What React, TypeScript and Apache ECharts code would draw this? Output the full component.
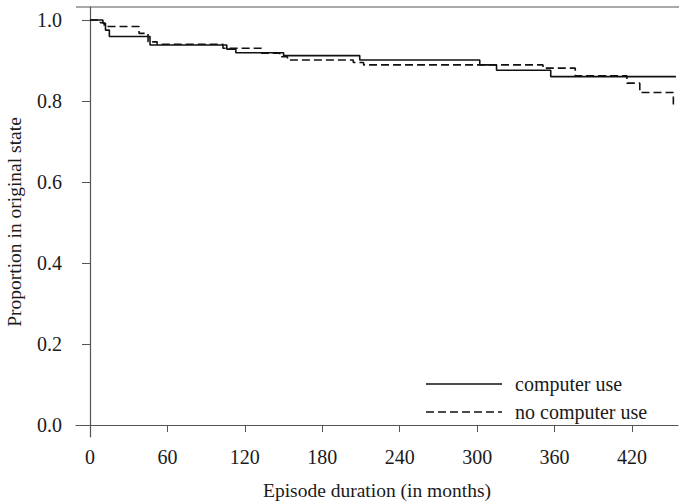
import React, { useEffect, useRef } from "react";
import * as echarts from "echarts";

const xTicks = [0, 60, 120, 180, 240, 300, 360, 420];
const yTicks = [0, 0.2, 0.4, 0.6, 0.8, 1.0];

const computerUse: [number, number][] = [
  [0, 1.0], [10, 0.992], [12, 0.975], [15, 0.959], [46.5, 0.938], [106, 0.928],
  [113, 0.919], [150, 0.912], [209, 0.901], [302, 0.889], [315, 0.876],
  [357, 0.86], [454, 0.86],
];

const noComputerUse: [number, number][] = [
  [0, 1.0], [8, 0.993], [11, 0.984], [38, 0.967], [45, 0.946], [52, 0.94],
  [103, 0.93], [133, 0.918], [147, 0.909], [153, 0.901], [204, 0.895],
  [212, 0.889], [351, 0.881], [376, 0.862], [416, 0.844], [426, 0.821],
  [452, 0.79], [452.6, 0.79],
];

const seriesNames = ["computer use", "no computer use"];
const FONT = "'Liberation Serif', 'Times New Roman', 'DejaVu Serif', serif";

export default function App() {
  const ref = useRef<HTMLDivElement>(null);
  useEffect(() => {
    const chart = echarts.init(ref.current!, null, { renderer: "svg" });
    const tickStyle = { fontFamily: FONT, fontSize: 20, color: "#1a1a1a" };
    const titleStyle = { fontFamily: FONT, fontSize: 19.5, color: "#1a1a1a" };
    chart.setOption({
      animation: false,
      backgroundColor: "#fff",
      grid: { left: 76, right: 1, top: 7, bottom: 66, containLabel: false, outerBoundsMode: "none" },
      xAxis: {
        type: "value",
        min: -10.85,
        max: 455.6,
        name: "Episode duration (in months)",
        nameLocation: "middle",
        nameGap: 43,
        nameTextStyle: titleStyle,
        axisLine: { lineStyle: { color: "#555", width: 1.2 } },
        axisTick: { customValues: xTicks, length: 7, lineStyle: { color: "#555" } },
        axisLabel: { customValues: xTicks, margin: 10, ...tickStyle },
        splitLine: { show: false },
      },
      yAxis: {
        type: "value",
        min: -0.0296,
        max: 1.032,
        name: "Proportion in original state",
        nameLocation: "middle",
        nameGap: 52,
        nameTextStyle: titleStyle,
        axisLine: { show: true, lineStyle: { color: "#555", width: 1.2 } },
        axisTick: { show: true, customValues: yTicks, length: 8, lineStyle: { color: "#555" } },
        axisLabel: {
          customValues: yTicks,
          margin: 14,
          formatter: (v: number) => v.toFixed(1),
          ...tickStyle,
        },
        splitLine: { show: false },
      },
      series: [
        {
          name: seriesNames[0],
          type: "line",
          step: "end",
          symbol: "none",
          data: computerUse,
          lineStyle: { color: "#111", width: 1.6, type: "solid" },
          z: 2,
        },
        {
          name: seriesNames[1],
          type: "line",
          step: "end",
          symbol: "none",
          data: noComputerUse,
          lineStyle: { color: "#111", width: 1.6, type: [8, 4] },
          z: 3,
        },
      ],
      graphic: [
        { type: "line", shape: { x1: 76, y1: 7, x2: 679, y2: 7 }, style: { stroke: "#555", lineWidth: 1.2 } },
        { type: "line", shape: { x1: 426, y1: 384, x2: 502, y2: 384 }, style: { stroke: "#111", lineWidth: 1.5 } },
        { type: "text", x: 515, y: 384, style: { text: seriesNames[0], fill: "#1a1a1a", fontFamily: FONT, fontSize: 20, textVerticalAlign: "middle" } },
        { type: "line", shape: { x1: 426, y1: 412, x2: 502, y2: 412 }, style: { stroke: "#111", lineWidth: 1.5, lineDash: [8, 4] } },
        { type: "text", x: 515, y: 412, style: { text: seriesNames[1], fill: "#1a1a1a", fontFamily: FONT, fontSize: 20, textVerticalAlign: "middle" } },
      ],
    });
    return () => chart.dispose();
  }, []);
  return <div ref={ref} style={{ position: "fixed", left: 0, top: 0, width: 679, height: 503 }} />;
}
